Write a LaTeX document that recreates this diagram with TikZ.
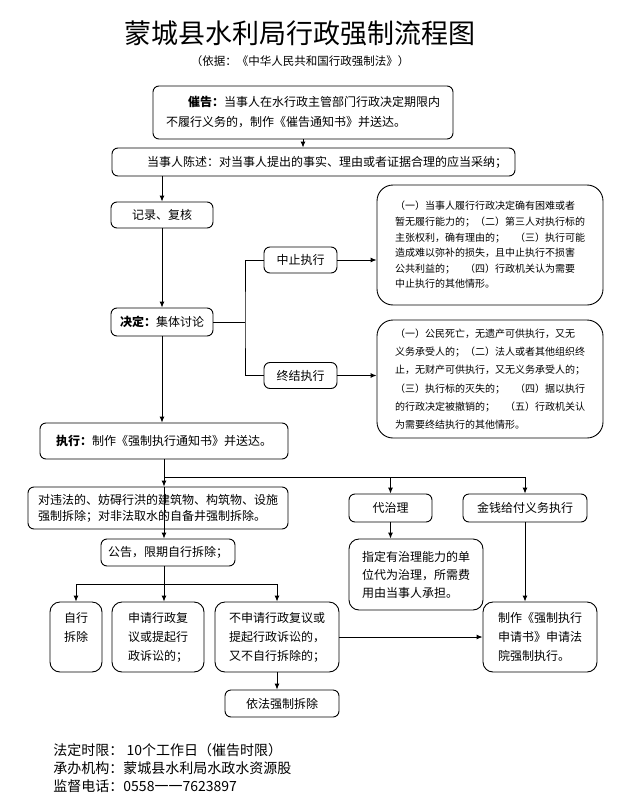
\documentclass[tikz,border=0pt]{standalone}
\usepackage{fontspec}
\setmainfont{Noto Sans CJK SC}
\usetikzlibrary{arrows.meta,positioning}

\begin{document}
\begin{tikzpicture}[x=1pt,y=-1pt,line width=0.9pt,
    >={Latex[length=6pt,width=5pt]},
    box/.style={draw,rounded corners=6pt,inner sep=2pt,align=left,font=\fontsize{12}{19}\selectfont},
    tallbox/.style={box,rounded corners=10pt},
    notebox/.style={draw,rounded corners=16pt,inner sep=2pt,align=left}]
    \useasboundingbox (0,0) rectangle (617,797);

    \node (T) at (300,33) {\fontsize{27}{27}\selectfont 蒙城县水利局行政强制流程图};
    \node (T1) at (300,61) {\fontsize{11.5}{12}\selectfont （依据：《中华人民共和国行政强制法》）};

    \node[box,minimum width=300pt,minimum height=53pt,font=\fontsize{12}{20}\selectfont] (CG) at (303,112.5)
        {\hspace*{22pt}\textbf{催告：}当事人在水行政主管部门行政决定期限内\\不履行义务的，制作《催告通知书》并送达。};
    \node[box,minimum width=403pt,minimum height=28pt,text width=395pt] (CS) at (313.5,162)
        {\hspace*{31pt}当事人陈述：对当事人提出的事实、理由或者证据合理的应当采纳；};

    \node[box,minimum width=102pt,minimum height=26pt] (JL) at (162,215) {记录、复核};
    \node[box,minimum width=102pt,minimum height=28pt] (JD) at (162,322) {\textbf{决定：}集体讨论};
    \node[box,minimum width=73pt,minimum height=26pt] (ZZ) at (300.5,260) {中止执行};
    \node[box,minimum width=73pt,minimum height=26pt] (ZJ) at (300.5,375.5) {终结执行};

    \node[notebox,minimum width=226pt,minimum height=120pt,font=\fontsize{10}{15.6}\selectfont] (N1) at (490,245)
        {（一）当事人履行行政决定确有困难或者\\暂无履行能力的；（二）第三人对执行标的\\主张权利，确有理由的；　（三）执行可能\\造成难以弥补的损失，且中止执行不损害\\公共利益的；　（四）行政机关认为需要\\中止执行的其他情形。};
    \node[notebox,minimum width=226pt,minimum height=118pt,font=\fontsize{10}{18.3}\selectfont] (N2) at (490,379)
        {（一）公民死亡，无遗产可供执行，又无\\义务承受人的；（二）法人或者其他组织终\\止，无财产可供执行，又无义务承受人的；\\（三）执行标的灭失的；　（四）据以执行\\的行政决定被撤销的；　（五）行政机关认\\为需要终结执行的其他情形。};

    \node[box,minimum width=248pt,minimum height=36pt] (ZX) at (164,441) {\textbf{执行：}制作《强制执行通知书》并送达。};

    \node[box,minimum width=260pt,minimum height=42pt,font=\fontsize{12}{16}\selectfont] (WF) at (158,508)
        {对违法的、妨碍行洪的建筑物、构筑物、设施\\强制拆除；对非法取水的自备井强制拆除。};
    \node[box,minimum width=83pt,minimum height=28pt] (DZ) at (390.5,508) {代治理};
    \node[box,minimum width=124pt,minimum height=28pt] (JQ) at (525,508) {金钱给付义务执行};
    \node[box,minimum width=134pt,minimum height=27pt] (GG) at (168,552.5) {公告，限期自行拆除；};
    \node[tallbox,minimum width=134pt,minimum height=71pt,font=\fontsize{12}{18}\selectfont] (ZD) at (416,574.5)
        {指定有治理能力的单\\位代为治理，所需费\\用由当事人承担。};

    \node[tallbox,minimum width=52pt,minimum height=70pt] (ZXC) at (76,637) {自行\\拆除\\\phantom{拆}};
    \node[tallbox,minimum width=92pt,minimum height=70pt] (SQ) at (158,637) {申请行政复\\议或提起行\\政诉讼的；};
    \node[tallbox,minimum width=124pt,minimum height=70pt] (BSQ) at (277,637) {不申请行政复议或\\提起行政诉讼的，\\又不自行拆除的；};
    \node[tallbox,minimum width=114pt,minimum height=70pt] (SQS) at (540,637) {制作《强制执行\\申请书》申请法\\院强制执行。};
    \node[box,minimum width=114pt,minimum height=27pt] (YF) at (282,703.5) {依法强制拆除};

    \node[right,inner sep=0pt] (F1) at (53,750) {\fontsize{14}{14}\selectfont 法定时限：\ 10个工作日（催告时限）};
    \node[right,inner sep=0pt] (F2) at (53,768) {\fontsize{14}{14}\selectfont 承办机构：蒙城县水利局水政水资源股};
    \node[right,inner sep=0pt] (F3) at (53,786) {\fontsize{14}{14}\selectfont 监督电话：0558一一7623897};

    % connectors
    \coordinate (BR) at (245,322);
    \coordinate (J1) at (164,477);
    \coordinate (J2) at (164,584);
    \draw[->] (CG.south) -- (CG.south |- CS.north);
    \draw[->] (JL.north |- CS.south) -- (JL.north);
    \draw[->] (JL.south) -- (JD.north);
    \draw (JD.east) -- (BR);
    \draw (ZZ.west) -| (BR) |- (ZJ.west);
    \draw[->] (ZZ.east) -- (ZZ.east -| N1.west);
    \draw[->] (ZJ.east) -- (ZJ.east -| N2.west);
    \draw[->] (JD.south) -- (JD.south |- ZX.north);
    \draw (ZX.south) -- (J1);
    \draw[->] (J1) -- (J1 |- WF.north);
    \draw[->] (J1 |- WF.north) -- (J1 |- GG.north);
    \draw[->] (J1) -| (DZ.north);
    \draw[->] (J1) -| (JQ.north);
    \draw[->] (DZ.south) -- (DZ.south |- ZD.north);
    \draw[->] (JQ.south) -- (JQ.south |- SQS.north);
    \draw (J2 |- GG.south) -- (J2);
    \draw[->] (J2) -| (ZXC.north);
    \draw[->] (J2) -- (J2 |- SQ.north);
    \draw[->] (J2) -| (BSQ.north);
    \draw[->] (BSQ.east) -- (SQS.west);
    \draw[->] (BSQ.south) -- (BSQ.south |- YF.north);
\end{tikzpicture}
\end{document}
